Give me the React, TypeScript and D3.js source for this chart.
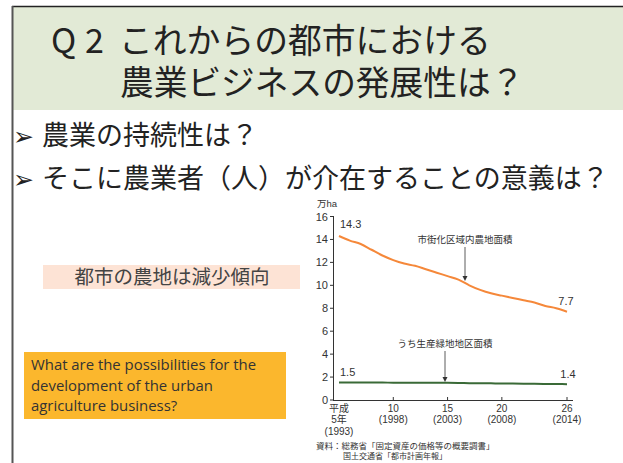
import React from "react";
import * as d3 from "d3";

const years = [1993, 1994, 1995, 1996, 1997, 1998, 1999, 2000, 2001, 2002, 2003, 2004, 2005, 2006, 2007, 2008, 2009, 2010, 2011, 2012, 2013, 2014];
const urbanFarmland = [14.3, 13.9, 13.6, 13.1, 12.6, 12.2, 11.9, 11.7, 11.4, 11.1, 10.8, 10.5, 10.0, 9.6, 9.3, 9.1, 8.9, 8.7, 8.5, 8.2, 8.0, 7.7];
const productiveGreen = [1.52, 1.52, 1.52, 1.52, 1.52, 1.51, 1.51, 1.51, 1.5, 1.5, 1.5, 1.49, 1.47, 1.46, 1.45, 1.44, 1.43, 1.42, 1.41, 1.4, 1.39, 1.38];
const yTicks = [0, 2, 4, 6, 8, 10, 12, 14, 16];
const xTickYears = [1993, 1998, 2003, 2008, 2014];
const xTickLabels = [["平成", "5年", "(1993)"], ["10", "(1998)"], ["15", "(2003)"], ["20", "(2008)"], ["26", "(2014)"]];

const JP = "'Noto Sans CJK JP', 'Noto Sans', sans-serif";
const JPT = "'Liberation Sans', 'Noto Sans CJK JP', sans-serif";
const TICK = "'Liberation Sans', 'Noto Sans CJK JP', sans-serif";

export default function App() {
  const x = d3.scaleLinear().domain([1993, 2014]).range([339, 567]);
  const y = d3.scaleLinear().domain([0, 16]).range([400, 216.5]);
  const line = d3.line<number>().x((_, i) => x(years[i])).y((d) => y(d)).curve(d3.curveMonotoneX);

  return (
    <svg width={623} height={463} style={{ position: "absolute", left: 0, top: 0, background: "#fff" }}>
      <rect x={0} y={0} width={623} height={463} fill="#fff" />
      {/* header */}
      <rect x={13} y={6} width={610} height={104} fill="#e2ead6" />
      <line x1={12} y1={6.5} x2={623} y2={6.5} stroke="#222" strokeWidth={1.5} />
      <line x1={12.5} y1={6} x2={12.5} y2={463} stroke="#555" strokeWidth={2} />
      <text x={51} y={53} fontFamily={JP} fontSize={34} fill="#222">Q</text>
      <text x={85} y={53} fontFamily={JP} fontSize={34} fill="#222">2</text>
      <text x={119} y={53} fontFamily={JPT} fontSize={33.8} fill="#222">これからの都市における</text>
      <text x={120} y={95} fontFamily={JPT} fontSize={33.7} fill="#222">農業ビジネスの発展性は？</text>
      {/* bullets */}
      <text x={13} y={145} fontFamily="'DejaVu Sans', sans-serif" fontSize={25} fill="#222">➢</text>
      <text x={42} y={145} fontFamily={JPT} fontSize={27} fill="#222">農業の持続性は？</text>
      <text x={13} y={188} fontFamily="'DejaVu Sans', sans-serif" fontSize={25} fill="#222">➢</text>
      <text x={42} y={188} fontFamily={JPT} fontSize={27} fill="#222">そこに農業者（人）が介在することの意義は？</text>
      {/* pink box */}
      <rect x={43} y={265} width={257} height={24} fill="#fde3d5" />
      <text x={172} y={284} textAnchor="middle" fontFamily={JP} fontSize={19.5} fill="#444">都市の農地は減少傾向</text>
      {/* orange box */}
      <rect x={24} y={352} width={262} height={67} fill="#fbb72d" />
      {["What are the possibilities for the", "development of the urban", "agriculture business?"].map((t, i) => (
        <text key={i} x={31} y={370 + i * 20.5} fontFamily="'Open Sans', sans-serif" fontSize={14.9} fill="#333">{t}</text>
      ))}
      {/* chart axes */}
      <line x1={333.5} y1={216} x2={333.5} y2={400} stroke="#333" strokeWidth={1} />
      <line x1={333} y1={400.5} x2={573} y2={400.5} stroke="#333" strokeWidth={1} />
      {yTicks.map((t) => (
        <g key={t}>
          <line x1={330} x2={333.5} y1={y(t)} y2={y(t)} stroke="#333" />
          <text x={328} y={y(t) + 4} textAnchor="end" fontFamily={TICK} fontSize={11} fill="#333">{t}</text>
        </g>
      ))}
      <text x={317} y={207} fontFamily={JPT} fontSize={9.5} fill="#333">万ha</text>
      {xTickYears.map((yr, i) => (
        <g key={yr}>
          {i > 0 && <line x1={x(yr)} x2={x(yr)} y1={400} y2={397} stroke="#333" />}
          {xTickLabels[i].map((s, j) => (
            <text key={j} x={x(yr)} y={411.5 + j * 11.5} textAnchor="middle" fontFamily={TICK} fontSize={10} fill="#333">{s}</text>
          ))}
        </g>
      ))}
      {/* lines */}
      <path d={line(urbanFarmland) ?? ""} fill="none" stroke="#f5883a" strokeWidth={2} />
      <path d={line(productiveGreen) ?? ""} fill="none" stroke="#3a6a37" strokeWidth={2} />
      {/* value labels */}
      <text x={340} y={228} fontFamily={TICK} fontSize={11} fill="#333">{urbanFarmland[0]}</text>
      <text x={566} y={305} textAnchor="middle" fontFamily={TICK} fontSize={11} fill="#333">{urbanFarmland[urbanFarmland.length - 1]}</text>
      <text x={340} y={376} fontFamily={TICK} fontSize={11} fill="#333">1.5</text>
      <text x={568} y={378} textAnchor="middle" fontFamily={TICK} fontSize={11} fill="#333">1.4</text>
      {/* annotations */}
      <text x={465} y={243} textAnchor="middle" fontFamily={JP} fontSize={9.5} fill="#333">市街化区域内農地面積</text>
      <line x1={465} x2={465} y1={247} y2={279} stroke="#333" strokeWidth={0.8} />
      <path d="M462.5,276 L465,281 L467.5,276 Z" fill="#333" />
      <text x={445} y={347} textAnchor="middle" fontFamily={JP} fontSize={9.5} fill="#333">うち生産緑地地区面積</text>
      <line x1={445} x2={445} y1={351} y2={380} stroke="#333" strokeWidth={0.8} />
      <path d="M442.5,377 L445,382 L447.5,377 Z" fill="#333" />
      {/* source */}
      <text x={316} y={449} fontFamily={JP} fontSize={8.5} fill="#333">資料：総務省「固定資産の価格等の概要調書」</text>
      <text x={343} y={459} fontFamily={JP} fontSize={8} fill="#333">国土交通省「都市計画年報」</text>
    </svg>
  );
}
